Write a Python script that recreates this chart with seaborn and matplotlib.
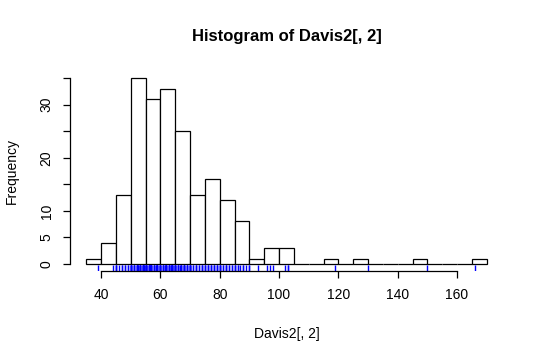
import numpy as np
import pandas as pd
import matplotlib
matplotlib.use("Agg")
import matplotlib.pyplot as plt
import seaborn as sns

weight_values = [39, 44, 45,
                 46, 47, 48, 49, 50,
                 51, 52, 52.5, 53, 54, 54.5, 55,
                 56, 56.5, 57, 58, 58.5, 59, 60,
                 61, 61.5, 62, 63, 63.5, 64, 65,
                 66, 66.5, 67, 68, 69, 70,
                 71, 72, 73, 74, 75,
                 76, 77, 78, 79, 80,
                 81, 82, 83, 84, 85,
                 86, 87, 88, 89, 90,
                 93, 96, 97, 98, 102, 103, 119, 130, 150, 166]
weight_counts = [1, 1, 3,
                 1, 2, 2, 2, 6,
                 4, 5, 2, 6, 7, 2, 9,
                 5, 2, 6, 4, 2, 5, 7,
                 4, 2, 6, 5, 2, 7, 7,
                 4, 1, 4, 6, 4, 6,
                 2, 3, 2, 3, 3,
                 3, 3, 3, 3, 4,
                 2, 3, 2, 2, 3,
                 2, 1, 2, 1, 2,
                 1, 1, 1, 1, 1, 2, 1, 1, 1, 1]
bin_edges = list(range(35, 175, 5))
x_ticks = [40, 60, 80, 100, 120, 140, 160]
y_ticks = [0, 5, 10, 15, 20, 25, 30, 35]
y_labels = ["0", "5", "10", "", "20", "", "30", ""]

weights = np.repeat(weight_values, weight_counts)

# R's hist() uses right-closed bins
binned = pd.cut(weights, bins=bin_edges, right=True)
counts = pd.Series(binned).value_counts(sort=False).values
lefts = np.array(bin_edges[:-1])

sns.set_style("white")
plt.rcParams["font.family"] = ["Liberation Sans", "DejaVu Sans"]
plt.rcParams["text.color"] = "black"
plt.rcParams["axes.labelcolor"] = "black"
plt.rcParams["xtick.color"] = "black"
plt.rcParams["ytick.color"] = "black"

fig = plt.figure(figsize=(5.4, 3.6), dpi=100)
ax = fig.add_axes([0.130, 0.246, 0.801, 0.558])

sns.histplot(x=lefts, weights=counts, bins=bin_edges, ax=ax,
             color="white", edgecolor="black", linewidth=0.9, alpha=1)
sns.rugplot(x=weights, ax=ax, height=0.03, color="blue", lw=1.1)

ax.set_xlim(29.6, 175.4)
ax.set_ylim(-1.4, 36.4)

for s in ["top", "right"]:
    ax.spines[s].set_visible(False)
ax.spines["left"].set_bounds(0, 35)
ax.spines["bottom"].set_bounds(40, 160)
for s in ["left", "bottom"]:
    ax.spines[s].set_color("black")
    ax.spines[s].set_linewidth(0.9)

ax.set_xticks(x_ticks)
ax.set_yticks(y_ticks)
ax.set_yticklabels(y_labels, rotation=90, va="center")
ax.tick_params(axis="both", which="major", direction="out", length=5,
               width=0.9, labelsize=10, pad=7, left=True, bottom=True)

ax.set_xlabel("Davis2[, 2]", fontsize=10, labelpad=18)
ax.set_ylabel("Frequency", fontsize=10, labelpad=15)
ax.set_title("Histogram of Davis2[, 2]", fontsize=12, fontweight="bold", pad=21)

fig.savefig("out.png", dpi=100, facecolor="white")
